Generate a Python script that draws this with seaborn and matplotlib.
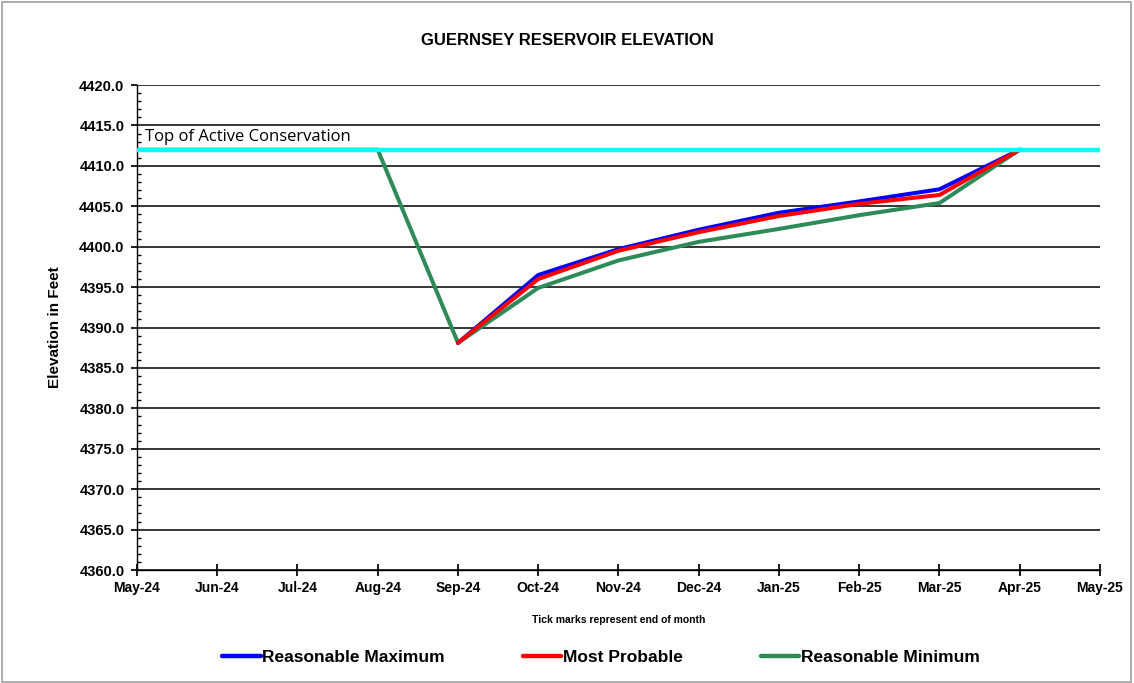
import matplotlib
matplotlib.use("Agg")
import matplotlib.pyplot as plt
from matplotlib.ticker import MultipleLocator
from matplotlib.patches import Rectangle
import seaborn as sns
import pandas as pd
import numpy as np

months = ["May-24", "Jun-24", "Jul-24", "Aug-24", "Sep-24", "Oct-24", "Nov-24",
          "Dec-24", "Jan-25", "Feb-25", "Mar-25", "Apr-25", "May-25"]

max_months = ["Sep-24", "Oct-24", "Nov-24", "Dec-24", "Jan-25", "Feb-25", "Mar-25", "Apr-25"]
reasonable_max = [4388.1, 4396.5, 4399.7, 4402.1, 4404.2, 4405.6, 4407.1, 4412.0]
most_probable = [4388.1, 4396.0, 4399.5, 4401.8, 4403.8, 4405.3, 4406.4, 4412.0]
min_months = ["May-24", "Jun-24", "Jul-24", "Aug-24", "Sep-24", "Oct-24", "Nov-24",
              "Dec-24", "Jan-25", "Feb-25", "Mar-25", "Apr-25"]
reasonable_min = [4412.0, 4412.0, 4412.0, 4412.0, 4388.1, 4394.9, 4398.3,
                  4400.6, 4402.2, 4403.9, 4405.4, 4412.0]
top_active = 4412.0

sns.set_theme(style="white")
plt.rcParams['font.family'] = ['Liberation Sans', 'DejaVu Sans']
plt.rcParams.update({"text.color": "black", "axes.labelcolor": "black",
                     "xtick.color": "black", "ytick.color": "black"})

idx = {m: i for i, m in enumerate(months)}
df = pd.concat([
    pd.DataFrame({"x": [idx[m] for m in max_months], "y": reasonable_max, "s": "Reasonable Maximum"}),
    pd.DataFrame({"x": [idx[m] for m in max_months], "y": most_probable, "s": "Most Probable"}),
    pd.DataFrame({"x": [idx[m] for m in min_months], "y": reasonable_min, "s": "Reasonable Minimum"}),
])
palette = {"Reasonable Maximum": "#0000FF", "Most Probable": "#FF0000", "Reasonable Minimum": "#2E8B57"}

fig = plt.figure(figsize=(11.34, 6.83), dpi=100)
fig.patches.append(Rectangle((0.002, 0.002), 0.995, 0.995, transform=fig.transFigure,
                             fill=False, edgecolor="#A0A0A0", lw=1.2))
ax = fig.add_axes([0.1208, 0.1654, 0.8492, 0.7101])

for s in ["Reasonable Minimum", "Reasonable Maximum", "Most Probable"]:
    sub = df[df.s == s]
    sns.lineplot(data=sub, x="x", y="y", ax=ax, color=palette[s], lw=2.9, label=s,
                 legend=False, zorder=3 if s != "Reasonable Minimum" else 2.5)
ax.axhline(top_active, color="#00FFFF", lw=3.2, zorder=4)
ax.text(0.1, top_active + 0.6, "Top of Active Conservation", fontsize=12,
        family=["Open Sans", "DejaVu Sans"], va="bottom", ha="left", zorder=5)

ax.set_xlim(0, 12)
ax.set_ylim(4360, 4420)
ax.yaxis.set_minor_locator(MultipleLocator(1))
ax.set_xticks(range(13))
ax.set_xticklabels(months, fontsize=10, fontweight="bold")
ax.set_yticks(np.arange(4360, 4421, 5))
ax.set_yticklabels([f"{v:.1f}" for v in np.arange(4360, 4421, 5)], fontsize=10.5, fontweight="bold")
ax.grid(axis="y", which="major", color="black", lw=1.1, zorder=1)
ax.grid(axis="x", visible=False)
for sp in ["top", "right"]:
    ax.spines[sp].set_visible(False)
for sp in ["left", "bottom"]:
    ax.spines[sp].set_color("black")
    ax.spines[sp].set_linewidth(1.0)
ax.tick_params(axis="y", which="major", direction="out", length=4, color="black", left=True, pad=5)
ax.tick_params(axis="y", which="minor", direction="in", length=3, color="black", left=True)
ax.tick_params(axis="x", which="major", direction="inout", length=8, color="black", bottom=True, pad=4)
ax.set_xlabel("Tick marks represent end of month", fontsize=7.5, fontweight="bold", labelpad=14)
ax.set_ylabel("Elevation in Feet", fontsize=11, fontweight="bold", labelpad=12)

fig.text(0.5, 0.94, "GUERNSEY RESERVOIR ELEVATION", ha="center", va="center",
         fontsize=12, fontweight="bold")

handles = [plt.Line2D([], [], color=palette[s], lw=3.2) for s in
           ["Reasonable Maximum", "Most Probable", "Reasonable Minimum"]]
fig.legend(handles, ["Reasonable Maximum", "Most Probable", "Reasonable Minimum"],
           loc="center", bbox_to_anchor=(0.53, 0.038), ncol=3, frameon=False,
           prop={"weight": "bold", "size": 12.5}, handlelength=2.2, handletextpad=0.1,
           columnspacing=4.5)

fig.savefig("out.png", dpi=100)
